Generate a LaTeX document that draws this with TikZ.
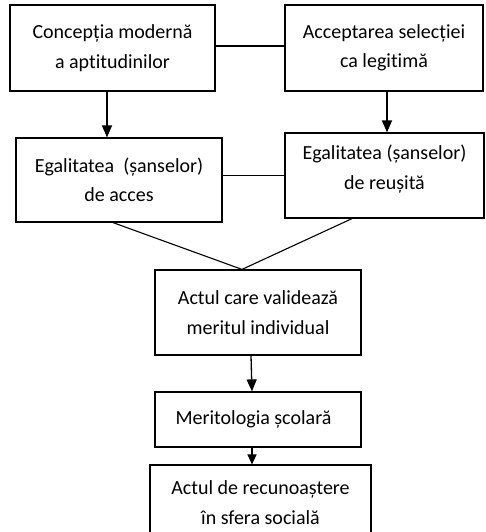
\documentclass[tikz,border=0pt]{standalone}
\usepackage{fontspec}
\setmainfont{Carlito}[Ligatures=NoCommon]
\usetikzlibrary{arrows.meta}
\begin{document}
\begin{tikzpicture}[x=1pt,y=-1pt,
  box/.style={draw,line width=1.2pt,rectangle,align=center,inner sep=0pt,
    font=\fontsize{20}{29.5}\selectfont},
  arr/.style={line width=1.3pt,-{Triangle[length=12pt,width=10pt]}},
  ln/.style={line width=1.1pt}]
\useasboundingbox (0,0) rectangle (485,532);
\node[box,minimum width=205pt,minimum height=86pt] (b1) at (112.5,48) {Concepția modernă\\a aptitudinilor};
\node[box,minimum width=198pt,minimum height=86pt] (b2) at (384,48) {Acceptarea selecției\\ca legitimă};
\node[box,minimum width=206pt,minimum height=84pt] (b3) at (119,180) {Egalitatea~ (șanselor)\\de acces};
\node[box,minimum width=199pt,minimum height=85pt] (b4) at (384.5,175.5) {Egalitatea (șanselor)\\de reușită\\[-22pt]\strut};
\node[box,minimum width=206pt,minimum height=85pt] (b5) at (258,312.5) {Actul care validează\\meritul individual};
\node[box,minimum width=206pt,minimum height=55pt] (b6) at (258,419.5) {Meritologia școlară~~};
\node[box,minimum width=221pt,minimum height=75pt] (b7) at (260.5,502.5) {Actul de recunoaștere\\în sfera socială};
\draw[ln] ([yshift=2pt]b1.east) -- ([yshift=2pt]b2.west);
\draw[arr] ([xshift=-5.5pt]b1.south) -- ([xshift=-5.5pt]b1.south |- b3.north);
\draw[arr] ([xshift=3pt]b2.south) -- ([xshift=3pt]b2.south |- b4.north);
\draw[ln] (b4.west -| b3.east) -- (b4.west);
\draw[ln] ([xshift=-6pt]b3.south) -- ([xshift=-16pt]b5.north) -- ([xshift=-32.5pt]b4.south);
\draw[arr] ([xshift=-7pt]b5.south) -- ([xshift=-6pt]b6.north);
\draw[line width=1.3pt,-{Triangle[length=10pt,width=9pt]}] ([xshift=-6pt]b6.south) -- ([xshift=-8.5pt]b7.north);
\end{tikzpicture}
\end{document}
